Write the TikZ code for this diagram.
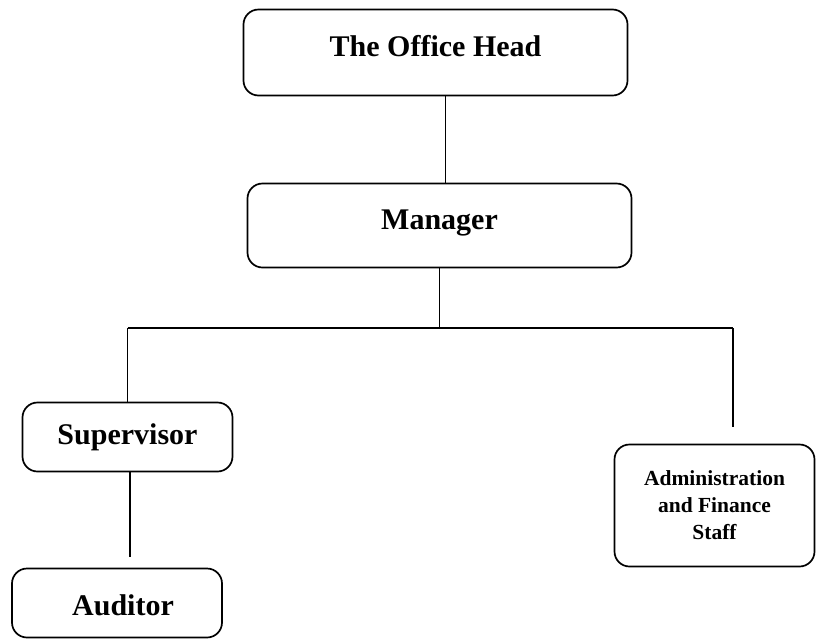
\documentclass[tikz,border=0pt]{standalone}
\usepackage{fontspec}
\setmainfont{Liberation Serif}
\usetikzlibrary{positioning}
\tikzset{post/.style={draw, line width=1.7pt, rounded corners=15pt,
font=\bfseries\fontsize{30}{36}\selectfont, align=center, inner sep=0pt},
link/.style={line width=1.1pt}}

\begin{document}
\begin{tikzpicture}[x=1pt,y=-1pt]
  \useasboundingbox (0,0) rectangle (817,638);
  \node (head)
    [
      post,
      minimum width  = 384pt,
      minimum height = 86pt,
      text height    = 20pt,
      text depth     = 12pt
    ] at (435.5,52.5) {The Office Head};
  \node (mgr)
    [
      post,
      minimum width  = 384pt,
      minimum height = 84pt,
      text height    = 20pt,
      text depth     = 13pt
    ] at (439.5,225.5) {Manager};
  \node (sup) [post, minimum width=210pt, minimum height=69pt] at (127.5,437) {Supervisor};
  \node (aud) [post, minimum width=210pt, minimum height=69pt, text height=25pt] at (117,603) {\hspace{12pt}Auditor};
  \node (adm)
    [
      post,
      minimum width  = 200pt,
      minimum height = 122pt,
      font           = \bfseries\fontsize{21.5}{27}\selectfont
    ] at (714.5,505.5) {Administration\\and Finance\\Staff};
  \coordinate (bus) at (mgr.south |- 0,328);
  \coordinate (busL) at (sup.north |- bus);
  \coordinate (busR) at (733,328);
  \coordinate (admEnd) at (733,427);
  \coordinate (audEnd) at (130,557);
  \path
    ([xshift=10pt]head.south) edge [link] ([xshift=10pt]head.south |- mgr.north)
    (mgr.south) edge [link] (bus)
    (busL) edge [link] (busR)
    (busL) edge [link] (sup.north)
    (busR) edge [link] (admEnd)
    (sup.south -| audEnd) edge [link] (audEnd);
\end{tikzpicture}
\end{document}
